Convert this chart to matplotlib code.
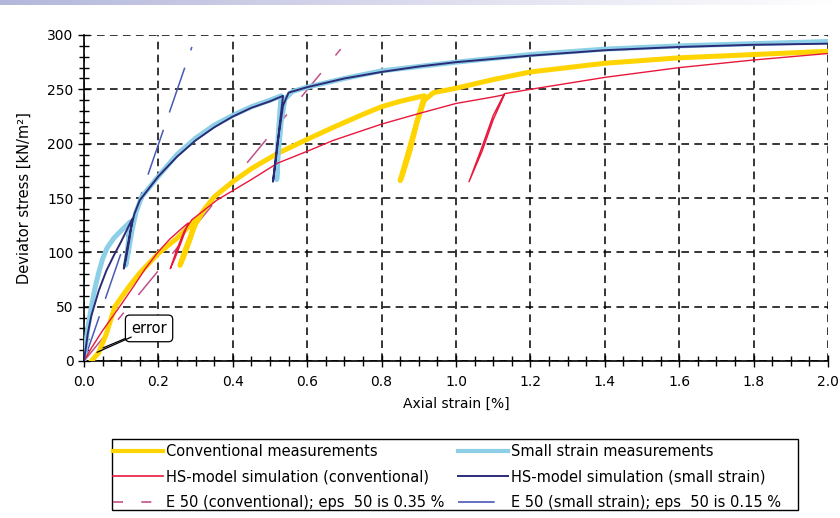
import matplotlib
matplotlib.use("Agg")
import matplotlib.pyplot as plt
import numpy as np
from matplotlib.ticker import MultipleLocator
from matplotlib.colors import LinearSegmentedColormap
from matplotlib.patches import Rectangle
from matplotlib.lines import Line2D

# ---------------- data ----------------
conv_meas_x = [0.02, 0.04, 0.06, 0.083, 0.12, 0.15, 0.2, 0.25, 0.28, 0.30, 0.285, 0.268, 0.258,
               0.275, 0.30, 0.32, 0.35, 0.4, 0.45, 0.52, 0.6, 0.67, 0.75, 0.8, 0.85, 0.9, 0.915,
               0.895, 0.875, 0.855, 0.85, 0.87, 0.895, 0.915, 0.94, 1.0, 1.1, 1.2, 1.4, 1.6, 1.8, 2.0]
conv_meas_y = [0, 8, 25, 50, 68, 81, 99, 113, 123, 130, 112, 96, 88,
               105, 126, 138, 151, 165, 177, 191, 204, 215, 227, 234, 239, 243, 244,
               220, 192, 170, 166, 190, 220, 240, 247, 251, 259, 266, 274, 279, 282, 285]

small_meas_x = [0.0, 0.01, 0.02, 0.03, 0.04, 0.05, 0.062, 0.08, 0.1, 0.124, 0.12, 0.115, 0.112,
                0.12, 0.13, 0.14, 0.155, 0.2, 0.25, 0.3, 0.35, 0.4, 0.45, 0.5, 0.53, 0.525,
                0.52, 0.518, 0.522, 0.53, 0.54, 0.56, 0.6, 0.7, 0.8, 0.9, 1.0, 1.2, 1.4, 1.6, 1.8, 2.0]
small_meas_y = [0, 30, 50, 68, 82, 94, 104, 113, 120, 128, 112, 96, 88,
                102, 122, 137, 151, 170, 190, 205, 217, 226, 234, 240, 244, 222,
                195, 167, 190, 220, 241, 248, 252, 260, 267, 271, 275, 282, 287, 290, 292, 294]

hs_conv_x = [0.0, 0.02, 0.05, 0.1, 0.132, 0.165, 0.196, 0.23, 0.266, 0.28, 0.262, 0.245, 0.232,
             0.25, 0.27, 0.29, 0.32, 0.357, 0.45, 0.52, 0.6, 0.67, 0.8, 0.903, 1.0, 1.1, 1.13,
             1.1, 1.07, 1.035, 1.07, 1.1, 1.13, 1.2, 1.4, 1.6, 1.8, 2.0]
hs_conv_y = [0, 12, 28, 52, 68, 85, 99, 112, 123, 127, 110, 95, 85,
             103, 120, 130, 138, 148, 167, 182, 193, 203, 218, 228, 237, 243, 245,
             222, 193, 165, 197, 226, 246, 250, 261, 270, 277, 283]

hs_small_x = [0.0, 0.01, 0.02, 0.04, 0.06, 0.08, 0.1, 0.12, 0.13, 0.122, 0.113, 0.107,
              0.115, 0.125, 0.135, 0.15, 0.2, 0.25, 0.3, 0.35, 0.4, 0.45, 0.5, 0.535,
              0.527, 0.518, 0.508, 0.52, 0.535, 0.55, 0.6, 0.7, 0.8, 0.9, 1.0, 1.2, 1.4, 1.6, 1.8, 2.0]
hs_small_y = [0, 25, 42, 65, 83, 97, 110, 124, 131, 112, 94, 85,
              102, 120, 135, 148, 170, 188, 203, 215, 225, 233, 239, 244,
              220, 192, 165, 200, 235, 247, 252, 260, 266, 271, 275, 281, 286, 289, 291, 292]

e50_conv_x = [0.0, 0.69]
e50_conv_y = [0, 287]
e50_small_x = [0.0, 0.29]
e50_small_y = [0, 289]

x_ticks = [0.0, 0.2, 0.4, 0.6, 0.8, 1.0, 1.2, 1.4, 1.6, 1.8, 2.0]
y_ticks = [0, 50, 100, 150, 200, 250, 300]

labels_left = ["Conventional measurements", "HS-model simulation (conventional)",
               "E 50 (conventional); eps  50 is 0.35 %"]
labels_right = ["Small strain measurements", "HS-model simulation (small strain)",
                "E 50 (small strain); eps  50 is 0.15 %"]

# ---------------- figure ----------------
plt.rcParams['font.family'] = ['DejaVu Sans']
W, H = 840, 518
fig = plt.figure(figsize=(8.4, 5.18), dpi=100)

# top gradient band
gax = fig.add_axes([0, 1 - 5 / H, 1, 5 / H])
grad = np.linspace(0, 1, 256).reshape(1, -1)
cmap = LinearSegmentedColormap.from_list("g", ["#b3b7da", "#dcdcee", "#ffffff"])
gax.imshow(grad, aspect='auto', cmap=cmap, extent=[0, 1, 0, 1])
gax.axis('off')

ax = fig.add_axes([84 / W, 1 - 361 / H, (828 - 84) / W, (361 - 35) / H])

c_yel, c_lb, c_red, c_navy, c_pink, c_blue = "#FFD400", "#8CCFE6", "#E8173C", "#2B2B78", "#C0508A", "#4A58B8"

l1, = ax.plot(conv_meas_x, conv_meas_y, color=c_yel, lw=3.6, solid_joinstyle='round', zorder=3)
l4, = ax.plot(small_meas_x, small_meas_y, color=c_lb, lw=3.6, solid_joinstyle='round', zorder=3)
l2, = ax.plot(hs_conv_x, hs_conv_y, color=c_red, lw=1.0, zorder=4)
l5, = ax.plot(hs_small_x, hs_small_y, color=c_navy, lw=1.4, zorder=4)
l3, = ax.plot(e50_conv_x, e50_conv_y, color=c_pink, lw=1.1, dashes=(20, 15, 6, 15), zorder=2)
l6, = ax.plot(e50_small_x, e50_small_y, color=c_blue, lw=1.1, dashes=(31, 12), zorder=2)

ax.set_xlim(0, 2.0)
ax.set_ylim(0, 300)
ax.set_xticks(x_ticks)
ax.set_yticks(y_ticks)
ax.set_xticklabels([f"{v:.1f}" for v in x_ticks])
ax.set_yticklabels([str(v) for v in y_ticks])
ax.xaxis.set_minor_locator(MultipleLocator(0.05))
ax.yaxis.set_minor_locator(MultipleLocator(10))
ax.tick_params(which='both', direction='inout', colors='black', labelsize=10, width=1)
ax.tick_params(which='major', length=8)
ax.tick_params(which='minor', length=7)
ax.tick_params(axis='x', pad=6)
ax.grid(True, which='major', color='black', lw=1.1, linestyle=(0, (5, 3.5)))
ax.set_axisbelow(True)
for s in ['top', 'right']:
    ax.spines[s].set_visible(False)
for s in ['left', 'bottom']:
    ax.spines[s].set_linewidth(1.2)
ax.set_xlabel("Axial strain [%]", fontsize=10, labelpad=6)
ax.set_ylabel("Deviator stress [kN/m²]", fontsize=10.5, labelpad=11)

# error callout
ax.annotate("error", xy=(0.051, 12), xytext=(0.127, 30), fontsize=10.5, ha='left', va='center',
            bbox=dict(boxstyle='round,pad=0.4,rounding_size=0.3', fc='white', ec='black', lw=0.9),
            arrowprops=dict(arrowstyle='-', color='black', lw=0.9, shrinkA=0, shrinkB=0), zorder=6)
ax.annotate("", xy=(0.035, 8), xytext=(0.127, 22),
            arrowprops=dict(arrowstyle='-', color='black', lw=0.9, shrinkA=0, shrinkB=0), zorder=6)

# legend: frame + two columns
fig.patches.append(Rectangle((112 / W, 1 - 510 / H), (798 - 112) / W, (510 - 439) / H,
                             transform=fig.transFigure, fill=False, ec='black', lw=1.0))
p1 = Line2D([], [], color=c_yel, lw=3.0)
p2 = Line2D([], [], color=c_red, lw=1.2)
p3 = Line2D([], [], color=c_pink, lw=1.2, dashes=(6, 11))
p4 = Line2D([], [], color=c_lb, lw=3.0)
p5 = Line2D([], [], color=c_navy, lw=1.4)
p6 = Line2D([], [], color=c_blue, lw=1.2, dashes=(22, 30))
leg_kw = dict(loc='upper left', frameon=False, borderpad=0, borderaxespad=0,
              prop={'family': ['DejaVu Sans'], 'size': 10.5},
              handlelength=3.4, handletextpad=0.25, labelspacing=0.72)
fig.legend([p1, p2, p3], labels_left, bbox_to_anchor=(113 / W, 1 - 444 / H), **leg_kw)
fig.legend([p4, p5, p6], labels_right, bbox_to_anchor=(458 / W, 1 - 444 / H), **leg_kw)

fig.savefig("out.png", dpi=100)
